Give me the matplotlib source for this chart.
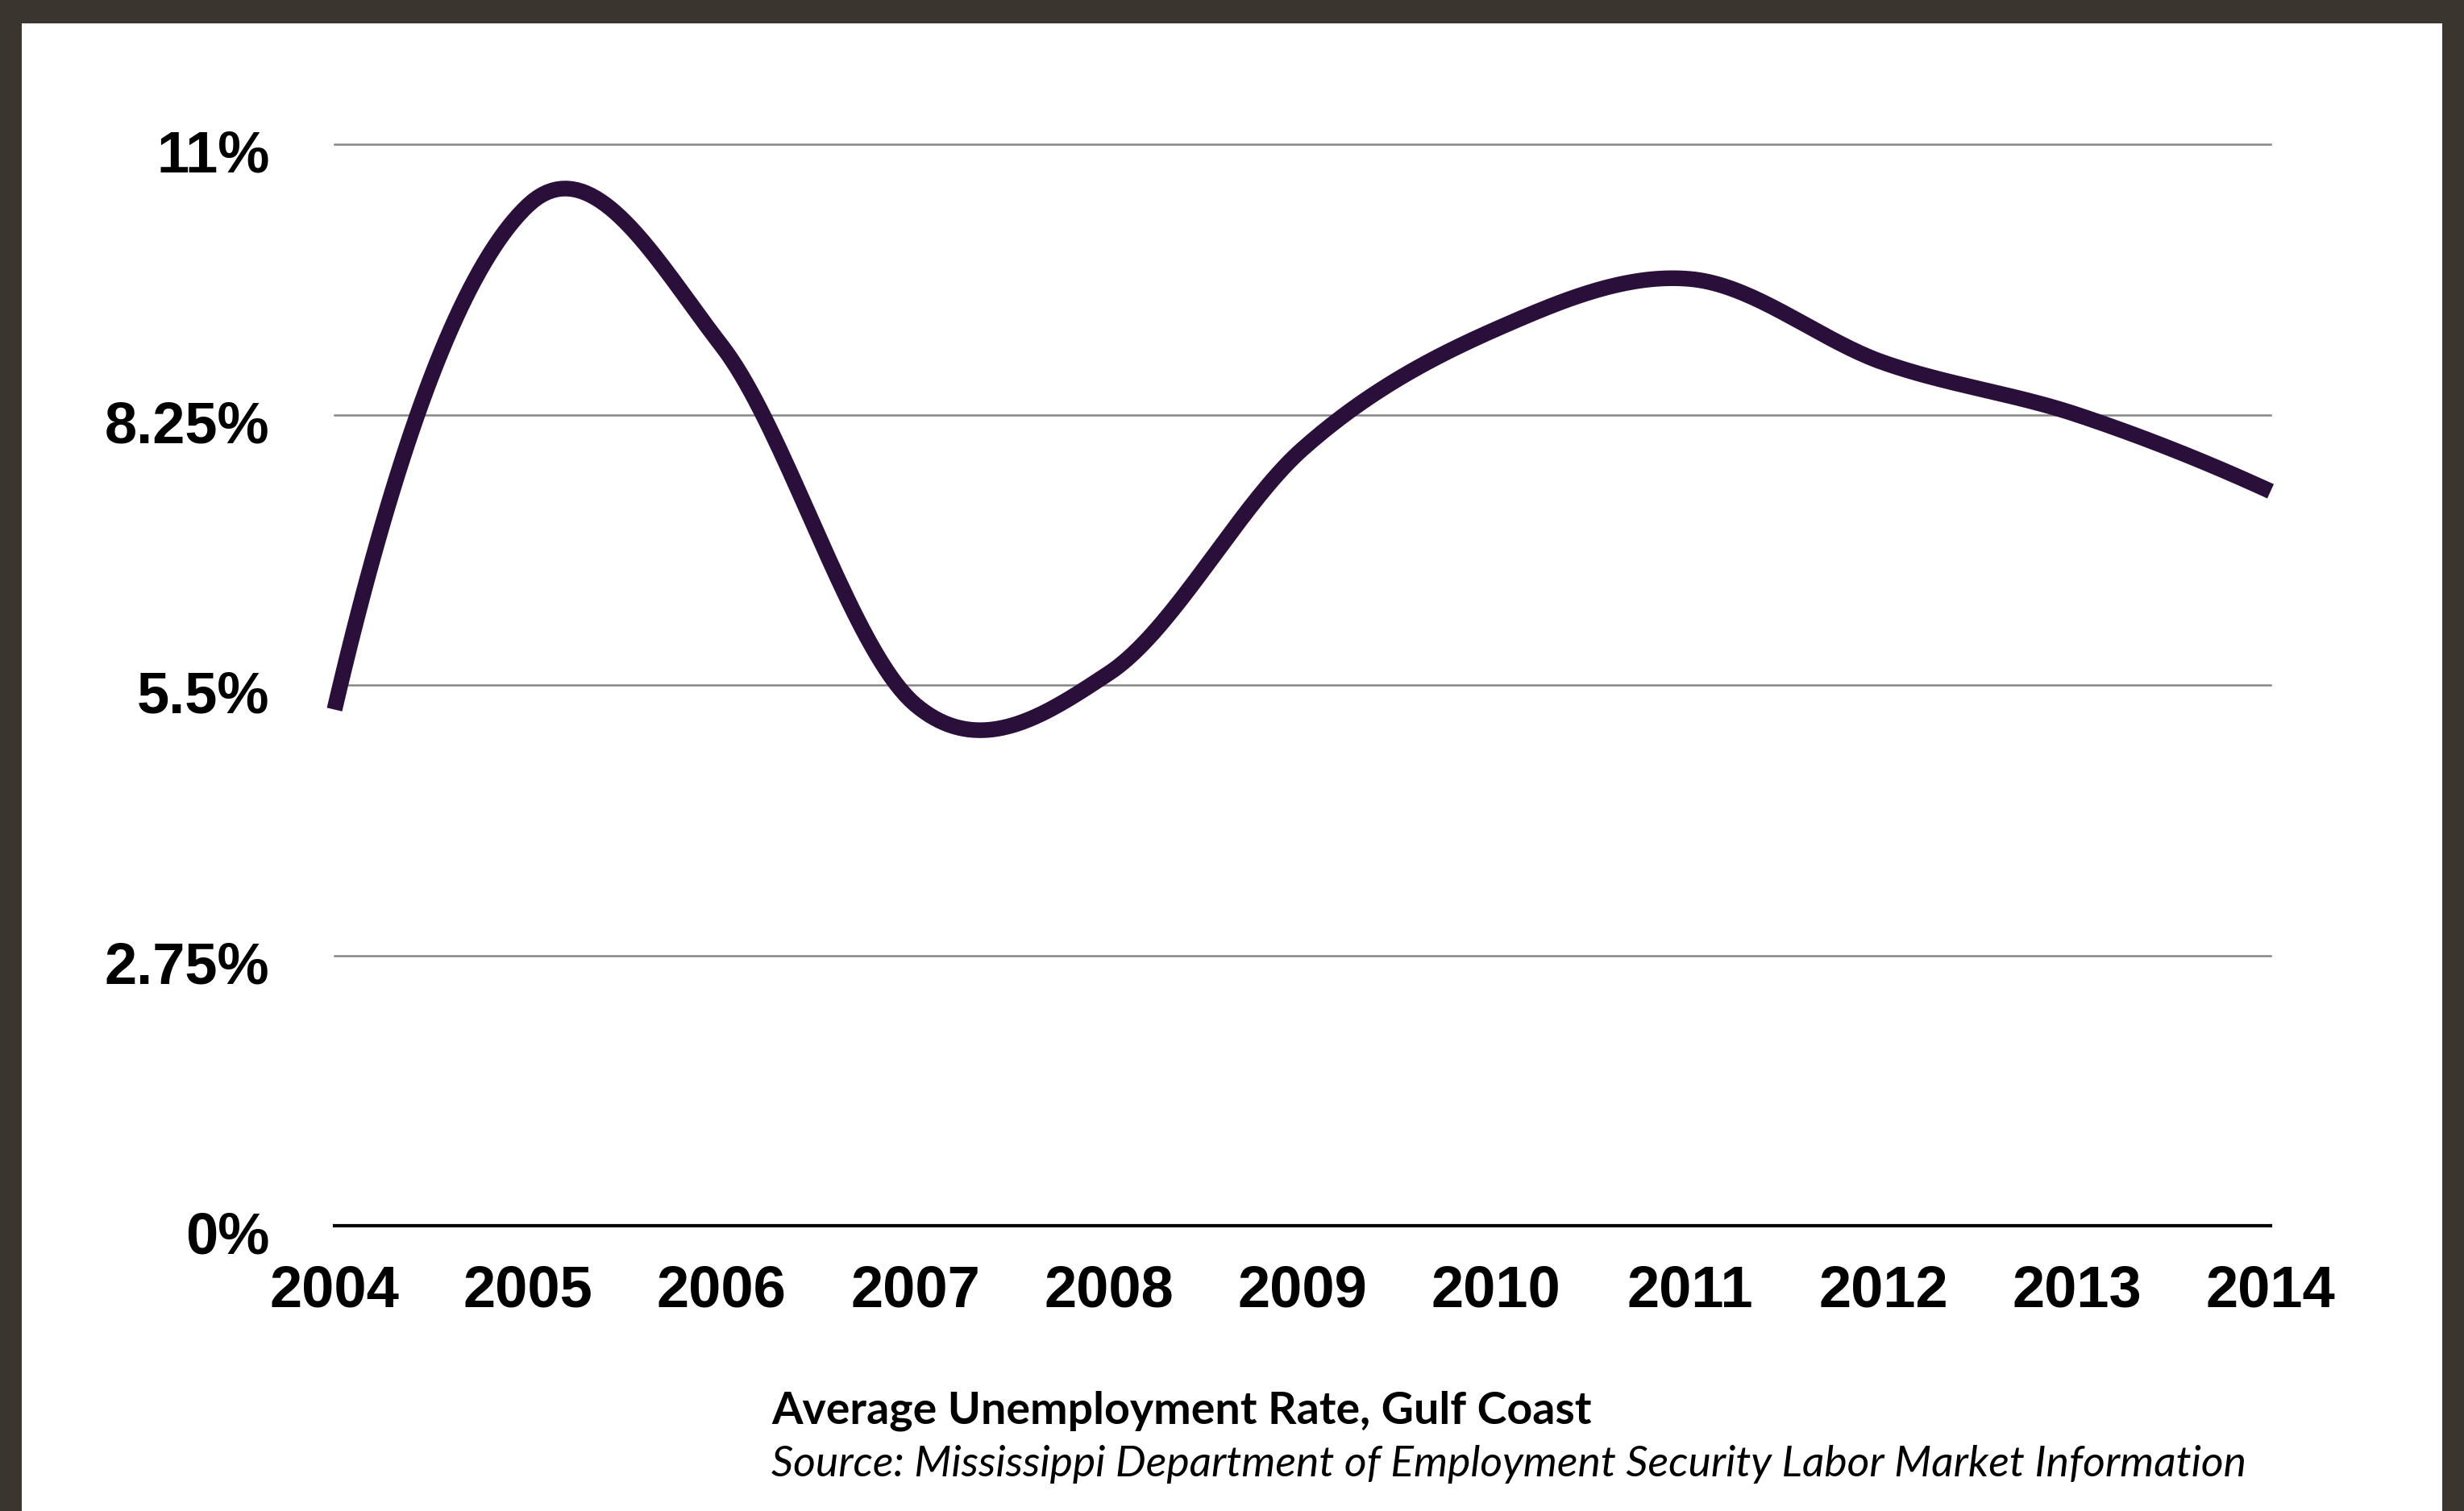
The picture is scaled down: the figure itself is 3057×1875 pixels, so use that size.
import matplotlib.pyplot as plt
import numpy as np
from matplotlib.patches import Rectangle
from matplotlib.transforms import ScaledTranslation

# yearly average unemployment rate (%)
years = [2004, 2005, 2006, 2007, 2008, 2009, 2010, 2011, 2012, 2013, 2014]
rates = [5.25, 10.38, 8.95, 5.3, 5.62, 7.9, 9.12, 9.63, 8.78, 8.25, 7.47]

y_ticks = [0, 2.75, 5.5, 8.25, 11]
y_labels = ["0%", "2.75%", "5.5%", "8.25%", "11%"]

title = "Average Unemployment Rate, Gulf Coast"
source = "Source: Mississippi Department of Employment Security Labor Market Information"

BORDER = "#3a352f"
LINE = "#2b0f3b"


def smooth(x, y, n=40):
    # cubic Hermite through the points, Catmull-Rom slopes, natural-ish ends
    x = np.asarray(x, float)
    y = np.asarray(y, float)
    m = np.empty_like(y)
    m[1:-1] = (y[2:] - y[:-2]) / 2
    m[0] = 2 * (y[1] - y[0]) - m[1]
    m[-1] = 2 * (y[-1] - y[-2]) - m[-2]
    xs, ys = [], []
    for i in range(len(x) - 1):
        t = np.linspace(0, 1, n, endpoint=False)
        h00 = 2 * t**3 - 3 * t**2 + 1
        h10 = t**3 - 2 * t**2 + t
        h01 = -2 * t**3 + 3 * t**2
        h11 = t**3 - t**2
        xs.append(x[i] + t * (x[i + 1] - x[i]))
        ys.append(h00 * y[i] + h10 * m[i] + h01 * y[i + 1] + h11 * m[i + 1])
    xs.append([x[-1]])
    ys.append([y[-1]])
    return np.concatenate(xs), np.concatenate(ys)


fig = plt.figure(figsize=(30.57, 18.75), dpi=100, facecolor=BORDER)
fig.patches.append(Rectangle((27 / 3057, 0), (3030 - 27) / 3057, 1 - 29 / 1875,
                             transform=fig.transFigure, facecolor="white",
                             edgecolor="none", zorder=-5))

ax = fig.add_axes([415 / 3057, 1 - 1521 / 1875, (2817 - 415) / 3057, (1521 - 179) / 1875])
ax.set_facecolor("none")
ax.set_zorder(2)

for v in y_ticks:
    if v == 0:
        ax.axhline(v, color="black", lw=3.0, zorder=2, clip_on=False)
    else:
        ax.axhline(v, color="#858585", lw=1.8, zorder=1, clip_on=False)

sx, sy = smooth(years, rates)
ax.plot(sx, sy, color=LINE, lw=14, solid_capstyle="butt", solid_joinstyle="round",
        zorder=3, clip_on=False)

ax.set_xlim(2004, 2014)
ax.set_ylim(0, 11)
for s in ax.spines.values():
    s.set_visible(False)

tick_font = dict(family="Liberation Sans", weight="bold", size=52)
ax.set_xticks(years, [str(y) for y in years], **tick_font)
ax.set_yticks(y_ticks, y_labels, **tick_font)
ax.tick_params(axis="x", length=0, pad=34)
ax.tick_params(axis="y", length=0, pad=58)
shift = ScaledTranslation(0, -6 / 72, fig.dpi_scale_trans)
for lab in ax.get_yticklabels():
    lab.set_transform(lab.get_transform() + shift)

cap_family = ["Lato", "DejaVu Sans"]
fig.text(957 / 3057, 1 - 1751 / 1875, title, family=cap_family, weight="bold",
         size=40, va="center", ha="left")
fig.text(957 / 3057, 1 - 1817 / 1875, source, family=cap_family, style="italic",
         size=38.5, va="center", ha="left")

fig.savefig("out.png", dpi=100, facecolor=BORDER)
